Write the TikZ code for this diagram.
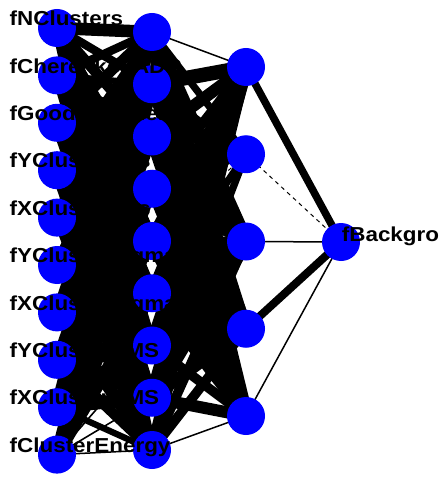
\documentclass[tikz,border=0pt]{standalone}
\usepackage{fontspec}
\usepackage{graphicx}
\setmainfont{Liberation Sans}
\definecolor{nnblue}{RGB}{0,0,255}
\pgfdeclarelayer{bg}
\pgfsetlayers{bg,main}
\newcommand\nnlabfont{\fontsize{20.2}{24}\selectfont\bfseries}
\newcommand\nnlab[1]{\scalebox{1.11}[1]{#1}}
\begin{document}
\begin{tikzpicture}[x=1pt,y=-1pt,
  neuron/.style={circle,fill=nnblue,draw=none,minimum size=38pt,inner sep=0pt},
  lab/.style={anchor=base west,inner sep=0pt,font=\nnlabfont},
  wire/.style={draw=black,line cap=round},
  negwire/.style={draw=black,dash pattern=on 4pt off 4pt}]
\useasboundingbox (0,0) rectangle (439,478);
\clip (0,0) rectangle (439,478);
% neurons
\foreach \k in {1,...,10} \node[neuron] (i\k) at (57,{28+47.4*(\k-1)}) {};
\foreach \k in {1,...,9} \node[neuron] (h\k) at (152,{32+52.25*(\k-1)}) {};
\foreach \k in {1,...,5} \node[neuron] (k\k) at (246,{67+87.25*(\k-1)}) {};
\node[neuron] (o) at (341,242) {};
% connectors
\begin{pgfonlayer}{bg}
\foreach \row [count=\a] in {
  {6,4,5,3,6,4,5,3,5},
  {4,3,6,5,2,6,4,5,3},
  {5,6,2,4,6,3,5,6,4},
  {3,5,6,2,4,6,3,5,6},
  {6,2,4,6,5,2,6,4,5},
  {4,6,3,5,6,4,2,6,3},
  {5,3,6,4,3,6,5,2,6},
  {2,5,4,6,5,3,6,4,5},
  {6,4,5,3,6,5,4,6,3},
  {3,6,2,5,4,6,1.6,1.6,1.5}}
  {\foreach \w [count=\b] in \row
     {\pgfmathsetmacro\lw{\w<2 ? \w : 2.1*\w}
      \draw[wire,line width=\lw pt] (i\a.center) -- (h\b.center);}}
\foreach \row [count=\a] in {
  {1.5,3,6,5,6},
  {6,2,5,6,4},
  {5,0,6,4,6},
  {4,3,5,6,5},
  {6,0,4,5,6},
  {5,3,6,4,5},
  {6,0,5,6,4},
  {6,3,6,5,5},
  {5,1,4,4,1.5}}
  {\foreach \w [count=\b] in \row
     {\ifdim \w pt>0pt
        \pgfmathsetmacro\lw{\w<2 ? \w : 2.4*\w}
        \draw[wire,line width=\lw pt] (h\a.center) -- (k\b.center);
      \else
        \draw[negwire,line width=1pt] (h\a.center) -- (k\b.center);
      \fi}}
\draw[wire,line width=7.5pt] (k1.center) -- (o.center);
\draw[negwire,line width=1pt] (k2.center) -- (o.center);
\draw[wire,line width=1.5pt] (k3.center) -- (o.center);
\draw[wire,line width=8pt] (k4.center) -- (o.center);
\draw[wire,line width=1.5pt] (k5.center) -- (o.center);
\end{pgfonlayer}
% labels
\node[lab] (l1) at (9.5,25.7) {\nnlab{fNClusters}};
\node[lab] (l2) at (9.5,73.1) {\nnlab{fCherenkovADC}};
\node[lab] (l3) at (9.5,120.5) {\nnlab{fGoodChannels}};
\node[lab] (l4) at (9.5,167.9) {\nnlab{fYClusterPos}};
\node[lab] (l5) at (9.5,215.3) {\nnlab{fXClusterPos}};
\node[lab] (l6) at (9.5,262.7) {\nnlab{fYClusterSigma}};
\node[lab] (l7) at (9.5,310.1) {\nnlab{fXClusterSigma}};
\node[lab] (l8) at (9.5,357.5) {\nnlab{fYClusterRMS}};
\node[lab] (l9) at (9.5,404.9) {\nnlab{fXClusterRMS}};
\node[lab] (l10) at (9.5,452.3) {\nnlab{fClusterEnergy}};
\node[lab] (lo) at (341.7,241) {\nnlab{fBackground}};
\end{tikzpicture}
\end{document}
